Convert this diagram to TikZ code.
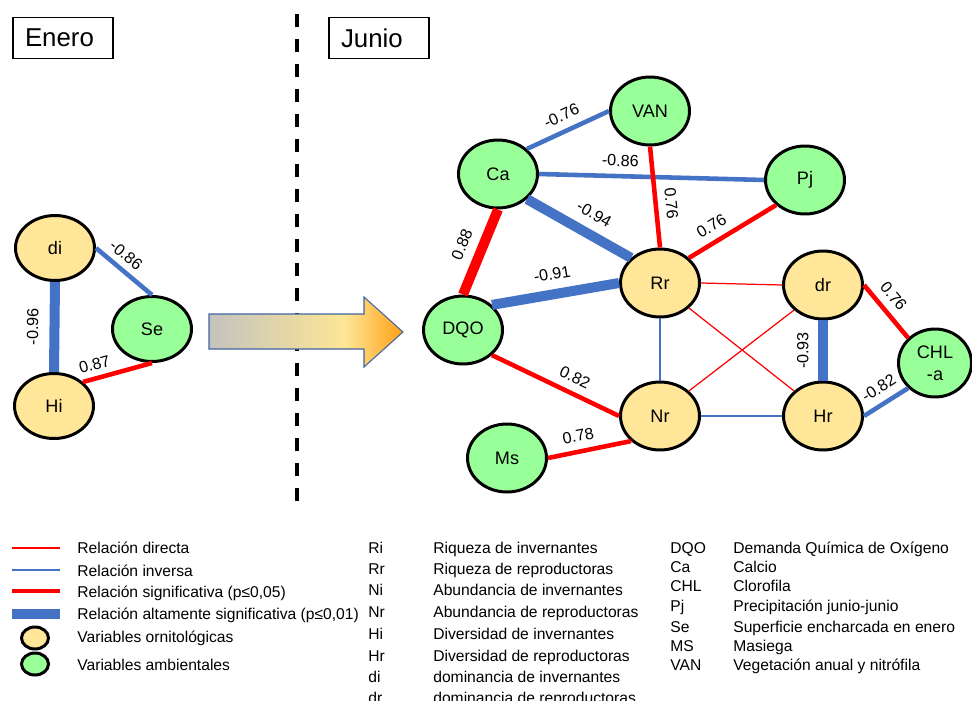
\documentclass[tikz,border=0pt]{standalone}
\usepackage{fontspec}
\setmainfont{Liberation Sans}
\usetikzlibrary{shapes.geometric}
\usetikzlibrary{positioning}

\definecolor{orni}{RGB}{255,230,153}
\definecolor{amb}{RGB}{153,255,153}
\definecolor{dirred}{RGB}{255,0,0}
\definecolor{invblue}{RGB}{68,114,196}
\definecolor{fadegray}{RGB}{195,195,190}
\definecolor{fadeyellow}{RGB}{253,230,150}
\definecolor{fadeorange}{RGB}{255,160,20}
\definecolor{arrowedge}{RGB}{65,100,160}

\pgfdeclarehorizontalshading{fade}{100bp}{color(0bp)=(fadegray); color(25bp)=(fadegray); color(60bp)=(fadeyellow); color(75bp)=(fadeorange); color(100bp)=(fadeorange)}

\begin{document}
\begin{tikzpicture}[x=0.02cm,y=-0.02cm,
    var/.style={ellipse,draw=black,line width=1.7pt,minimum width=1.58cm,minimum height=1.36cm,inner sep=0pt,font=\fontsize{10.3}{12}\selectfont},
    orn/.style={var,fill=orni},
    env/.style={var,fill=amb},
    direl/.style={draw=dirred},
    invrel/.style={draw=invblue},
    ns/.style={line width=0.7pt},
    sig/.style={line width=2.6pt},
    hsig/.style={line width=5.7pt},
    lbl/.style={sloped,font=\fontsize{9.2}{10}\selectfont},
    legtxt/.style={anchor=base west,inner sep=0pt,font=\fontsize{8.9}{10}\selectfont},
    head/.style={draw,line width=0.6pt,text width=1.52cm,inner xsep=0.24cm,align=left,minimum height=0.82cm,font=\fontsize{14.7}{16}\selectfont}]
      \useasboundingbox (0,0) rectangle (972,700);

      \node[head] (ene) at (63,38) {Enero};
      \node[head] (jun) at (379,38) {Junio};
      \draw[line width=2.3pt,dash pattern=on 7.4pt off 6.8pt] (297,14) -- (297,512);
      \shadedraw[shading=fade,draw=arrowedge,line width=0.6pt] (209,314) -- (364,314) -- (364,297) -- (403,332) -- (364,367) -- (364,349) -- (209,349) -- cycle;

      % enero
      \node[orn,minimum height=1.3cm] (di) at (55,248) {di};
      \node[env,minimum height=1.3cm] (Se) at (152,329) {Se};
      \node[orn,minimum height=1.3cm] (Hi) at (54,406) {Hi};
      \draw[invrel,hsig] (Hi.north) -- (di.south) node[lbl,midway,above=3pt] {-0.96};
      \draw[invrel,sig] (di.east) -- (Se.north) node[lbl,pos=.38,above] {-0.86};
      \draw[direl,sig] (Hi.north east) -- (Se.south) node[lbl,pos=.22,above] {0.87};

      % junio
      \node[env] (VAN) at (650,111) {VAN};
      \node[env] (Ca) at (498,174) {Ca};
      \node[env] (Pj) at (805,180) {Pj};
      \node[orn] (Rr) at (660,283) {Rr};
      \node[orn] (dr) at (823,285) {dr};
      \node[env,minimum width=1.46cm,align=center,font=\fontsize{10.3}{12.5}\selectfont] (CHL) at (935,363) {CHL\\-a};
      \node[orn] (Nr) at (660,416) {Nr};
      \node[orn] (Hr) at (823,416) {Hr};
      \node[env] (DQO) at (463,330) {DQO};
      \node[env] (Ms) at (507,458) {Ms};

      \draw[invrel,sig] (Ca.north east) -- (VAN.west) node[lbl,midway,above=1pt] {-0.76};
      \draw[invrel,sig] (Ca.east) -- (Pj.west) node[lbl,pos=.36,above=1pt] {-0.86};
      \draw[direl,sig] (VAN.south) -- (Rr.north) node[lbl,pos=.58,above=1pt] {0.76};
      \draw[direl,sig] (Rr.north east) -- (Pj.south west) node[lbl,pos=.35,above=1pt] {0.76};
      \draw[invrel,hsig] (Ca.south east) -- (Rr.north west) node[lbl,pos=.55,above=2pt] {-0.94};
      \draw[direl,hsig] (DQO.north) -- (Ca.south) node[lbl,midway,above=2pt] {0.88};
      \draw[invrel,hsig] (DQO.north east) -- (Rr.west) node[lbl,midway,above=2pt] {-0.91};
      \draw[direl,sig] (DQO.south east) -- (Nr.west) node[lbl,pos=.6,above=1pt] {0.82};
      \draw[direl,sig] (Ms.east) -- (Nr.south west) node[lbl,pos=.4,above=1pt] {0.78};
      \draw[direl,ns] (Rr.east) -- (dr.west);
      \draw[direl,ns] (Rr.south east) -- (Hr.north west);
      \draw[direl,ns] (Nr.north east) -- (dr.south west);
      \draw[invrel,ns] (Rr.south) -- (Nr.north);
      \draw[invrel,ns] (Nr.east) -- (Hr.west);
      \draw[invrel,hsig] (Hr.north) -- (dr.south) node[lbl,midway,above=2pt] {-0.93};
      \draw[direl,sig] (dr.east) -- (CHL.north west) node[lbl,pos=.4,above=1pt] {0.76};
      \draw[invrel,sig] (Hr.east) -- (CHL.south west) node[lbl,pos=.52,above=1pt] {-0.82};

      % leyenda
      \draw[direl,line width=0.6pt] (12,548) -- (60,548);
      \draw[invrel,line width=0.8pt] (12,570) -- (60,570);
      \draw[direl,line width=2.8pt] (12,591) -- (60,591);
      \draw[invrel,line width=5.2pt] (12,614) -- (60,614);
      \node[orn,minimum width=0.54cm,minimum height=0.44cm] (korn) at (35,638) {};
      \node[env,minimum width=0.54cm,minimum height=0.44cm] (kenv) at (35,664) {};
      \node[legtxt] (l1) at (77,553) {Relación directa};
      \node[legtxt] (l2) at (77,576) {Relación inversa};
      \node[legtxt] (l3) at (77,597) {Relación significativa (p≤0,05)};
      \node[legtxt] (l4) at (77,619) {Relación altamente significativa (p≤0,01)};
      \node[legtxt] (l5) at (77,642) {Variables ornitológicas};
      \node[legtxt] (l6) at (77,670) {Variables ambientales};

      \node[legtxt] (cRi) at (368,553) {Ri};
      \node[legtxt] (cRr) at (368,574) {Rr};
      \node[legtxt] (cNi) at (368,595) {Ni};
      \node[legtxt] (cNr) at (368,617) {Nr};
      \node[legtxt] (cHi) at (368,639) {Hi};
      \node[legtxt] (cHr) at (368,661) {Hr};
      \node[legtxt] (cdi) at (368,682) {di};
      \node[legtxt] (cdr) at (368,703) {dr};
      \node[legtxt] (tRi) at (433,553) {Riqueza de invernantes};
      \node[legtxt] (tRr) at (433,574) {Riqueza de reproductoras};
      \node[legtxt] (tNi) at (433,595) {Abundancia de invernantes};
      \node[legtxt] (tNr) at (433,617) {Abundancia de reproductoras};
      \node[legtxt] (tHi) at (433,639) {Diversidad de invernantes};
      \node[legtxt] (tHr) at (433,661) {Diversidad de reproductoras};
      \node[legtxt] (tdi) at (433,682) {dominancia de invernantes};
      \node[legtxt] (tdr) at (433,703) {dominancia de reproductoras};

      \node[legtxt] (cDQO) at (670,553) {DQO};
      \node[legtxt] (cCa) at (670,572) {Ca};
      \node[legtxt] (cCHL) at (670,591) {CHL};
      \node[legtxt] (cPj) at (670,611) {Pj};
      \node[legtxt] (cSe) at (670,632) {Se};
      \node[legtxt] (cMS) at (670,651) {MS};
      \node[legtxt] (cVAN) at (670,670) {VAN};
      \node[legtxt] (tDQO) at (733,553) {Demanda Química de Oxígeno};
      \node[legtxt] (tCa) at (733,572) {Calcio};
      \node[legtxt] (tCHL) at (733,591) {Clorofila};
      \node[legtxt] (tPj) at (733,611) {Precipitación junio-junio};
      \node[legtxt] (tSe) at (733,632) {Superficie encharcada en enero};
      \node[legtxt] (tMS) at (733,651) {Masiega};
      \node[legtxt] (tVAN) at (733,670) {Vegetación anual y nitrófila};

    \end{tikzpicture}
\end{document}
